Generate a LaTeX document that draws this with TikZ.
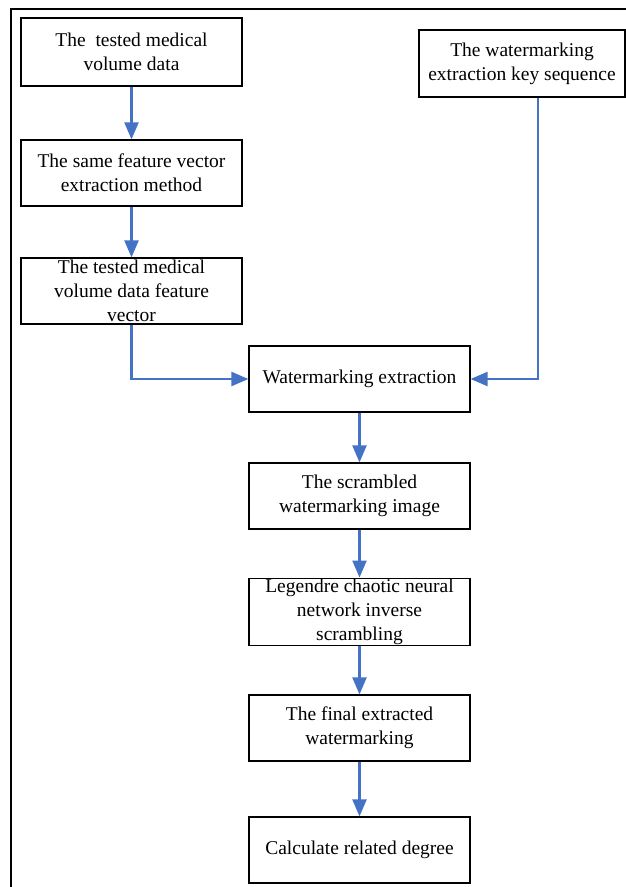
\documentclass[tikz,border=0pt]{standalone}
\usepackage{fontspec}
\setmainfont{Liberation Serif}
\usepackage{xcolor}
\usepackage{tikz}
\usetikzlibrary{arrows.meta}
\usetikzlibrary{shapes.geometric, positioning, calc}

\definecolor{flowblue}{RGB}{68,114,196}

\begin{document}
\begin{tikzpicture}[x=1pt, y=-1pt]
		\tikzset{
			flowarrow/.tip={Triangle[length=17pt, width=14pt]},
			stepbox/.style={draw, line width=1.2pt, rectangle, minimum width=221pt, minimum height=66pt, align=center, font=\fontsize{19.5}{24}\selectfont, inner sep=1pt},
			link/.style={draw=flowblue, line width=2.2pt, -flowarrow, color=flowblue},
		}
		\useasboundingbox (0,0) rectangle (626,887);
		\draw[line width=1.5pt] (11,887) -- (11,9) -- (626,9);

		\node[stepbox, minimum height=68pt] (data) at (131.5,52) {The~ tested medical\\volume data};
		\node[stepbox] (method) at (131.5,173) {The same feature vector\\extraction method};
		\node[stepbox] (vector) at (131.5,291) {The tested medical\\volume data feature\\vector};
		\node[stepbox, minimum width=206pt, minimum height=67pt] (key) at (522,63.5) {The watermarking\\extraction key sequence};
		\node[stepbox] (extract) at (359.5,379) {Watermarking extraction};
		\node[stepbox] (scrambled) at (359.5,496) {The scrambled\\watermarking image};
		\node[stepbox] (inverse) at (359.5,612) {Legendre chaotic neural\\network inverse\\scrambling};
		\node[stepbox] (final) at (359.5,728) {The final extracted\\watermarking};
		\node[stepbox] (degree) at (359.5,850) {Calculate related degree};

		\draw[link] (data) -- (method);
		\draw[link] (method) -- (vector);
		\draw[link] (vector.south) |- (extract.west);
		\draw[link] (key.south -| 538,0) |- (extract.east);
		\draw[link] (extract) -- (scrambled);
		\draw[link] (scrambled) -- (inverse);
		\draw[link] (inverse) -- (final);
		\draw[link] (final) -- (degree);
	\end{tikzpicture}
\end{document}
